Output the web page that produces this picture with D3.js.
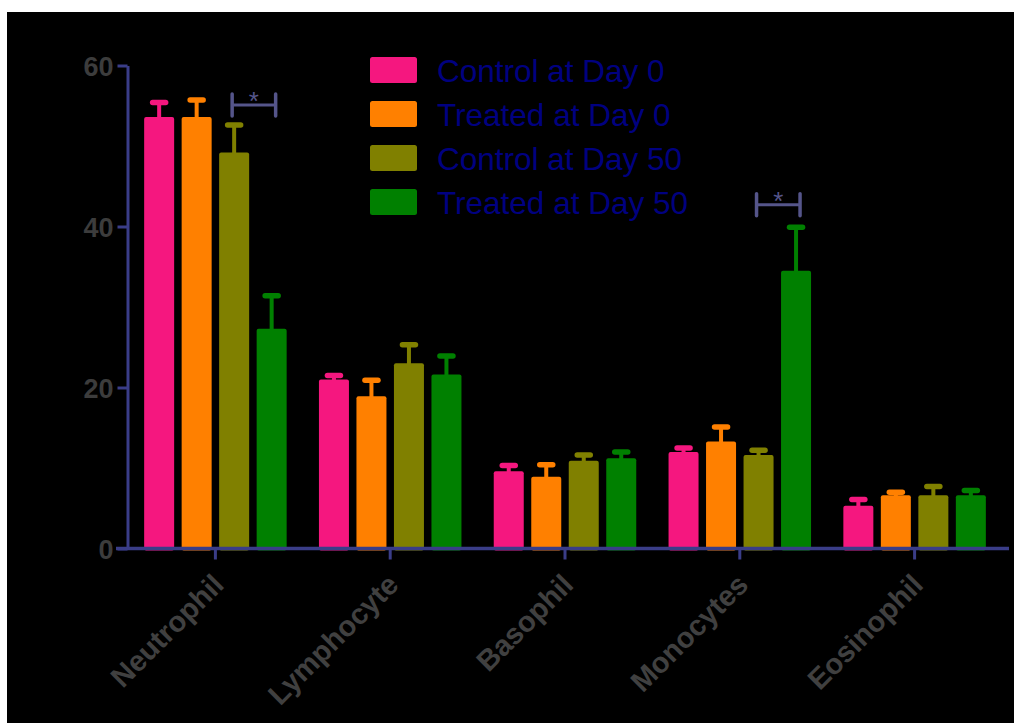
<!DOCTYPE html>
<html>
<head>
<meta charset="utf-8">
<script src="https://cdn.jsdelivr.net/npm/d3@7"></script>
<style>
  html, body { margin: 0; padding: 0; background: #ffffff; }
  svg { display: block; }
  text { font-family: "Liberation Sans", Arial, sans-serif; }
</style>
</head>
<body>
<svg id="chart" width="1014" height="723"></svg>
<script>
// Leukocyte differential counts, mean with upper SEM
const categories = ["Neutrophil", "Lymphocyte", "Basophil", "Monocytes", "Eosinophil"];
const seriesNames = ["Control at Day 0", "Treated at Day 0", "Control at Day 50", "Treated at Day 50"];
const seriesColors = ["#f5177f", "#ff8000", "#808000", "#008000"];

const controlDay0 = [53.6, 21.0, 9.6, 12.0, 5.3];
const treatedDay0 = [53.6, 18.9, 8.9, 13.3, 6.6];
const controlDay50 = [49.2, 23.0, 10.9, 11.6, 6.6];
const treatedDay50 = [27.3, 21.6, 11.2, 34.5, 6.6];

const controlDay0Err = [55.4, 21.5, 10.3, 12.5, 6.1];
const treatedDay0Err = [55.7, 20.9, 10.4, 15.1, 7.0];
const controlDay50Err = [52.6, 25.3, 11.6, 12.2, 7.7];
const treatedDay50Err = [31.4, 23.9, 12.0, 39.9, 7.2];

const yTicks = [0, 20, 40, 60];

// significance brackets between Control at Day 50 and Treated at Day 50
const sigCategories = ["Neutrophil", "Monocytes"];
const sigLevels = [55.1, 42.7];
const sigLabels = ["*", "*"];

const means = [controlDay0, treatedDay0, controlDay50, treatedDay50];
const errs = [controlDay0Err, treatedDay0Err, controlDay50Err, treatedDay50Err];

const svg = d3.select("#chart");

svg.append("rect")
  .attr("x", 7).attr("y", 12)
  .attr("width", 1007).attr("height", 711)
  .attr("fill", "#000000");

const axisColor = "#3a3d88";
const tickTextColor = "#3c3c3c";

const x = d3.scaleBand().domain(categories).range([128, 1002]).padding(0);
const inner = d3.scaleBand().domain(d3.range(seriesNames.length))
  .range([-71.25, 71.25]).paddingInner(0.2).paddingOuter(0);
const y = d3.scaleLinear().domain([0, 60]).range([548.5, 65.5]);

// bars and error bars
const rows = [];
categories.forEach((c, ci) => {
  seriesNames.forEach((s, si) => {
    rows.push({ c, si, v: means[si][ci], e: errs[si][ci] });
  });
});

const g = svg.append("g");

const barX = d => x(d.c) + x.bandwidth() / 2 + inner(d.si);
const barCX = d => barX(d) + inner.bandwidth() / 2;

// error stems
g.selectAll("line.stem").data(rows).join("line")
  .attr("class", "stem")
  .attr("x1", barCX).attr("x2", barCX)
  .attr("y1", d => y(d.v) + 2).attr("y2", d => y(d.e))
  .attr("stroke", d => seriesColors[d.si])
  .attr("stroke-width", 4);

// error caps
g.selectAll("line.cap").data(rows).join("line")
  .attr("class", "cap")
  .attr("x1", d => barCX(d) - 6.5).attr("x2", d => barCX(d) + 6.5)
  .attr("y1", d => y(d.e)).attr("y2", d => y(d.e))
  .attr("stroke", d => seriesColors[d.si])
  .attr("stroke-width", 5.5)
  .attr("stroke-linecap", "round");

g.selectAll("rect.bar").data(rows).join("rect")
  .attr("class", "bar")
  .attr("x", barX)
  .attr("y", d => y(d.v))
  .attr("width", inner.bandwidth())
  .attr("height", d => y(0) - y(d.v) + 2)
  .attr("rx", 2)
  .attr("fill", d => seriesColors[d.si]);

// y axis
const yAxis = d3.axisLeft(y).tickValues(yTicks).tickSize(10).tickSizeOuter(0).tickPadding(4);
const yg = svg.append("g").attr("transform", "translate(127.5,0)").call(yAxis);
yg.select(".domain").attr("stroke", axisColor).attr("stroke-width", 3);
yg.selectAll(".tick line").attr("stroke", axisColor).attr("stroke-width", 3);
yg.selectAll(".tick text")
  .attr("fill", tickTextColor)
  .style("font-size", "27px")
  .style("font-weight", "bold")
  .attr("dy", "0.36em");

// x axis
const xAxis = d3.axisBottom(x).tickSize(11).tickSizeOuter(0).tickPadding(6);
const xg = svg.append("g").attr("transform", "translate(0,548.5)").call(xAxis);
xg.select(".domain").remove();
xg.insert("line", ":first-child")
  .attr("x1", 116).attr("x2", 1009)
  .attr("stroke", axisColor).attr("stroke-width", 3.5);
xg.selectAll(".tick line").attr("stroke", axisColor).attr("stroke-width", 3);
xg.selectAll(".tick text")
  .attr("fill", "#404040")
  .style("font-size", "29px")
  .style("font-weight", "bold")
  .attr("text-anchor", "end")
  .attr("dy", null)
  .attr("y", null)
  .attr("transform", "translate(10,38) rotate(-45)");

// significance brackets
const sigColor = "#55558a";
sigCategories.forEach((c, i) => {
  const a = { c, si: 2 }, b = { c, si: 3 };
  const x1 = barCX(a) - 2, x2 = barCX(b) + 4;
  const yy = y(sigLevels[i]);
  const sg = svg.append("g");
  sg.append("line").attr("x1", x1).attr("x2", x2).attr("y1", yy).attr("y2", yy)
    .attr("stroke", sigColor).attr("stroke-width", 3);
  [x1, x2].forEach(xx => {
    sg.append("line").attr("x1", xx).attr("x2", xx).attr("y1", yy - 11).attr("y2", yy + 11)
      .attr("stroke", sigColor).attr("stroke-width", 3.5).attr("stroke-linecap", "round");
  });
  sg.append("text").attr("x", (x1 + x2) / 2).attr("y", yy + 5)
    .attr("text-anchor", "middle")
    .attr("fill", sigColor)
    .style("font-size", "26px")
    .text(sigLabels[i]);
});

// legend
const legend = svg.append("g").attr("transform", "translate(370,57)");
seriesNames.forEach((s, i) => {
  const row = legend.append("g").attr("transform", `translate(0,${i * 44})`);
  row.append("rect").attr("width", 47).attr("height", 26).attr("rx", 2.5)
    .attr("fill", seriesColors[i]);
  row.append("text").attr("x", 67).attr("y", 25)
    .attr("fill", "#000080")
    .style("font-size", "31.5px")
    .text(s);
});
</script>
</body>
</html>
